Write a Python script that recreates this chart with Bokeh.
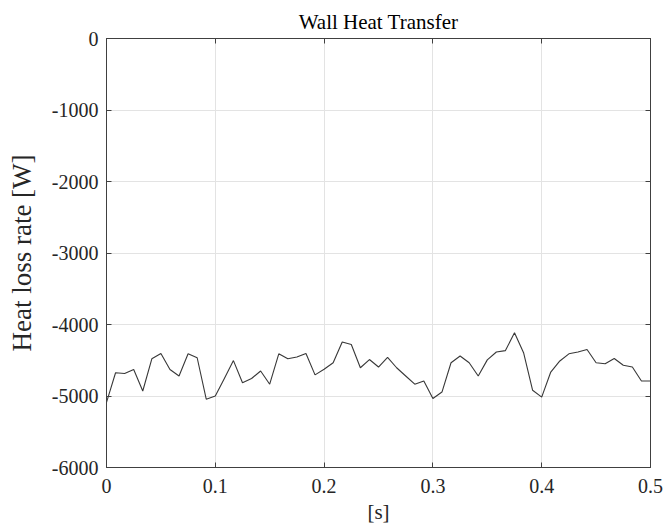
import numpy as np
from bokeh.plotting import figure
from bokeh.models import LinearAxis, Range1d, FixedTicker, CustomJSTickFormatter
from bokeh.embed import file_html
from bokeh.resources import INLINE

# Wall heat transfer sampled every 1/120 s over half a second
time_s = np.linspace(0.0, 0.5, 61)
heat_loss_w = [
    -5090, -4675, -4685, -4630, -4930, -4480, -4405, -4630, -4720, -4410,
    -4465, -5045, -5000, -4755, -4505, -4815, -4755, -4650, -4835, -4410,
    -4480, -4455, -4405, -4705, -4625, -4535, -4245, -4280, -4605, -4490,
    -4595, -4460, -4605, -4720, -4835, -4790, -5035, -4945, -4535, -4440,
    -4535, -4720, -4495, -4385, -4365, -4115, -4395, -4920, -5015, -4665,
    -4510, -4410, -4385, -4350, -4535, -4550, -4475, -4570, -4595, -4790,
    -4790,
]
x_ticks = [0, 0.1, 0.2, 0.3, 0.4, 0.5]
y_ticks = [0, -1000, -2000, -3000, -4000, -5000, -6000]

FONT = "Liberation Serif"
AXIS_COLOR = "#404040"

p = figure(
    width=666, height=527,
    x_range=Range1d(0, 0.5), y_range=Range1d(-6000, 0),
    output_backend="svg", toolbar_location=None,
    min_border_left=106, min_border_right=16,
    min_border_top=38, min_border_bottom=60,
    title="Wall Heat Transfer",
)
p.title.text_font = FONT
p.title.text_font_size = "21px"
p.title.text_font_style = "normal"
p.title.align = "center"
p.title.text_color = "#000000"

p.line(time_s, heat_loss_w, line_color="#383838", line_width=1.1)

# plain hyphen-minus for negative tick values
plain = CustomJSTickFormatter(code="return tick.toString();")
blank = CustomJSTickFormatter(code="return '';")

p.xaxis.ticker = FixedTicker(ticks=x_ticks)
p.yaxis.ticker = FixedTicker(ticks=y_ticks)
p.xaxis.formatter = plain
p.yaxis.formatter = plain
p.xaxis.axis_label = "[s]"
p.yaxis.axis_label = "Heat loss rate [W]"

for ax in (p.xaxis[0], p.yaxis[0]):
    ax.axis_line_color = AXIS_COLOR
    ax.major_tick_line_color = AXIS_COLOR
    ax.major_tick_in = 5
    ax.major_tick_out = 0
    ax.minor_tick_line_color = None
    ax.major_label_text_font = FONT
    ax.major_label_text_font_size = "20px"
    ax.major_label_text_color = "#262626"
    ax.axis_label_text_font = FONT
    ax.axis_label_text_font_style = "normal"
    ax.axis_label_text_color = "#262626"

p.xaxis.axis_label_text_font_size = "21px"
p.yaxis.axis_label_text_font_size = "27px"
p.xaxis.major_label_standoff = 11
p.yaxis.major_label_standoff = 8
p.xaxis.axis_label_standoff = 4
p.yaxis.axis_label_standoff = 12

# Box frame: ticks on the top and right edges, no labels
top = LinearAxis(ticker=FixedTicker(ticks=x_ticks), formatter=blank)
right = LinearAxis(ticker=FixedTicker(ticks=y_ticks), formatter=blank)
for ax in (top, right):
    ax.axis_line_color = AXIS_COLOR
    ax.major_tick_line_color = AXIS_COLOR
    ax.major_tick_in = 5
    ax.major_tick_out = 0
    ax.minor_tick_line_color = None
    ax.major_label_standoff = 0
p.add_layout(top, "above")
p.add_layout(right, "right")

p.grid.grid_line_color = "#e3e3e3"
p.grid.grid_line_width = 1
p.outline_line_color = AXIS_COLOR
p.background_fill_color = "white"
p.border_fill_color = "white"

open("out.html", "w").write(file_html(p, INLINE))
